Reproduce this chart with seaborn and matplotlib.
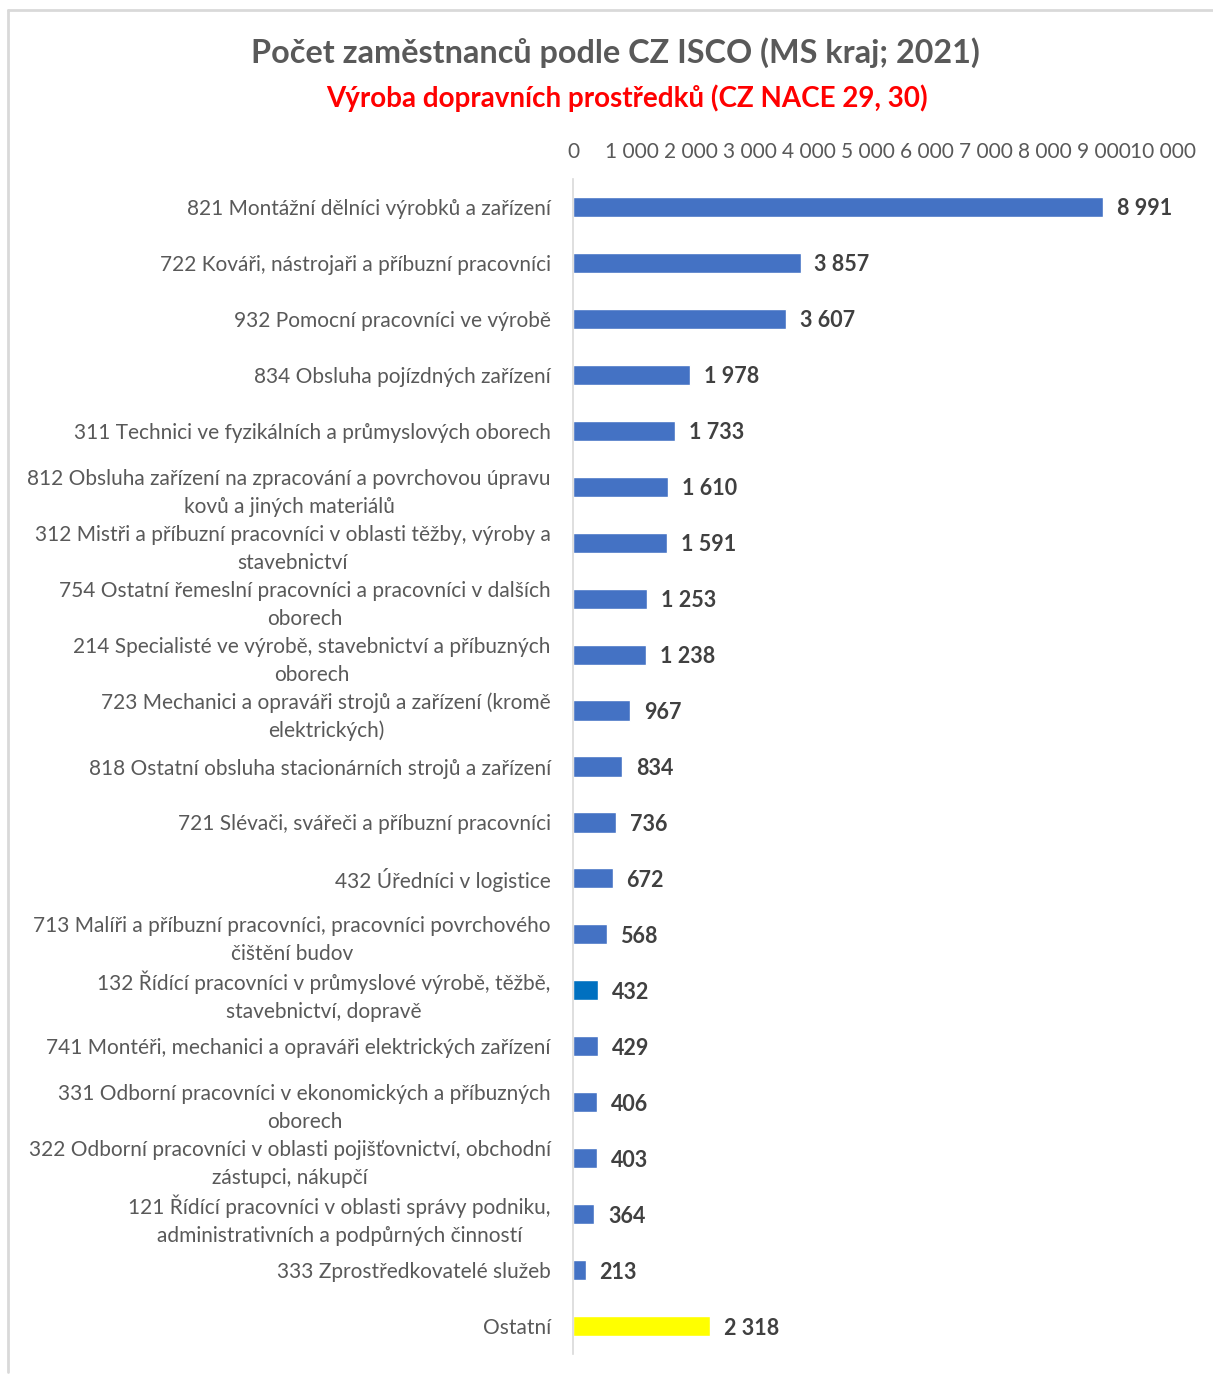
import matplotlib
matplotlib.use("Agg")
import matplotlib.pyplot as plt
import seaborn as sns
import pandas as pd
from matplotlib.lines import Line2D

# Data
categories = [
    "821 Montážní dělníci výrobků a zařízení",
    "722 Kováři, nástrojaři a příbuzní pracovníci",
    "932 Pomocní pracovníci ve výrobě",
    "834 Obsluha pojízdných zařízení",
    "311 Technici ve fyzikálních a průmyslových oborech",
    "812 Obsluha zařízení na zpracování a povrchovou úpravu\nkovů a jiných materiálů",
    "312 Mistři a příbuzní pracovníci v oblasti těžby, výroby a\nstavebnictví",
    "754 Ostatní řemeslní pracovníci a pracovníci v dalších\noborech",
    "214 Specialisté ve výrobě, stavebnictví a příbuzných\noborech",
    "723 Mechanici a opraváři strojů a zařízení (kromě\nelektrických)",
    "818 Ostatní obsluha stacionárních strojů a zařízení",
    "721 Slévači, svářeči a příbuzní pracovníci",
    "432 Úředníci v logistice",
    "713 Malíři a příbuzní pracovníci, pracovníci povrchového\nčištění budov",
    "132 Řídící pracovníci v průmyslové výrobě, těžbě,\nstavebnictví, dopravě",
    "741 Montéři, mechanici a opraváři elektrických zařízení",
    "331 Odborní pracovníci v ekonomických a příbuzných\noborech",
    "322 Odborní pracovníci v oblasti pojišťovnictví, obchodní\nzástupci, nákupčí",
    "121 Řídící pracovníci v oblasti správy podniku,\nadministrativních a podpůrných činností",
    "333 Zprostředkovatelé služeb",
    "Ostatní",
]
values = [8991, 3857, 3607, 1978, 1733, 1610, 1591, 1253, 1238, 967,
          834, 736, 672, 568, 432, 429, 406, 403, 364, 213, 2318]
bar_colors = ["#4472C4"] * 14 + ["#0070C0"] + ["#4472C4"] * 5 + ["#FFFF00"]
x_ticks = list(range(0, 10001, 1000))

title = "Počet zaměstnanců podle CZ ISCO (MS kraj; 2021)"
subtitle = "Výroba dopravních prostředků (CZ NACE 29, 30)"


def fmt(v):
    return f"{v:,}".replace(",", " ")


sns.set_theme(style="white")
plt.rcParams["font.family"] = ["Lato", "DejaVu Sans"]

W, H = 1213, 1374
fig = plt.figure(figsize=(W / 100, H / 100), dpi=100)
ax = fig.add_axes([573 / W, 1 - 1354 / H, 590 / W, (1354 - 179) / H])

df = pd.DataFrame({"cat": categories, "val": values})
sns.barplot(data=df, x="val", y="cat", hue="cat", palette=bar_colors,
            legend=False, width=0.36, orient="h", ax=ax, saturation=1)

ax.set_xlim(0, 10000)
ax.set_ylim(len(categories) - 0.5, -0.5)
ax.xaxis.tick_top()
ax.set_xticks(x_ticks)
ax.set_xticklabels([fmt(t) for t in x_ticks])
ax.set_xlabel("")
ax.set_ylabel("")
ax.tick_params(axis="x", length=0, pad=12, labelsize=15, labelcolor="#595959")
ax.tick_params(axis="y", length=0, pad=16, labelsize=15, labelcolor="#595959")
for lab in ax.get_yticklabels():
    lab.set_multialignment("center")
    lab.set_linespacing(1.5)

for s in ["top", "right", "bottom"]:
    ax.spines[s].set_visible(False)
ax.spines["left"].set_color("#D9D9D9")
ax.spines["left"].set_linewidth(1.2)

for i, v in enumerate(values):
    ax.annotate(fmt(v), xy=(v, i), xytext=(10, 0), textcoords="offset points",
                ha="left", va="center_baseline", fontsize=15.5, fontweight="bold",
                color="#404040")

fig.text(615 / W, 1 - 53 / H, title, ha="center", va="center",
         fontsize=23.3, fontweight="bold", color="#595959")
fig.text(627 / W, 1 - 98 / H, subtitle, ha="center", va="center",
         fontsize=20, fontweight="bold", color="#FF0000")

# chart area border (top and left edges)
fig.add_artist(Line2D([8 / W, 1], [1 - 10 / H, 1 - 10 / H], transform=fig.transFigure,
                      color="#D9D9D9", lw=2))
fig.add_artist(Line2D([8 / W, 8 / W], [1 - 10 / H, 1 - 1372 / H], transform=fig.transFigure,
                      color="#D9D9D9", lw=2))

fig.savefig("out.png", dpi=100, facecolor="white")
